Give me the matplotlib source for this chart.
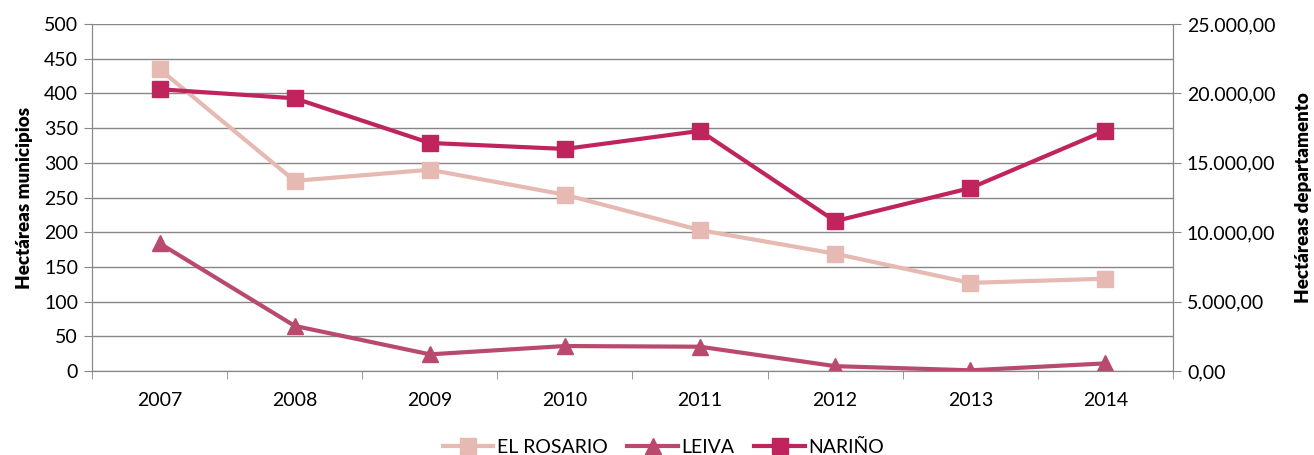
import numpy as np
import matplotlib
matplotlib.use("Agg")
from matplotlib import pyplot as plt
from matplotlib.ticker import FuncFormatter

plt.rcParams['font.family'] = ['Lato', 'DejaVu Sans']

years = ["2007", "2008", "2009", "2010", "2011", "2012", "2013", "2014"]
el_rosario = [435, 274, 290, 254, 203, 169, 127, 133]
leiva = [184, 65, 24, 36, 35, 7, 1, 11]
narino = [20300, 19650, 16430, 16000, 17300, 10800, 13180, 17320]

C_ROS = "#E6B9B3"
C_LEI = "#B94A6E"
C_NAR = "#C0245C"
GRID = "#878787"

fig = plt.figure(figsize=(13.14, 4.55), dpi=100)
ax = fig.add_axes([0.070, 0.1846, 0.8227, 0.7626])
ax2 = ax.twinx()

x = np.arange(len(years))
l1, = ax.plot(x, el_rosario, color=C_ROS, lw=3, marker="s", ms=11, label="EL ROSARIO")
l2, = ax.plot(x, leiva, color=C_LEI, lw=3, marker="^", ms=11, label="LEIVA")
l3, = ax2.plot(x, narino, color=C_NAR, lw=3, marker="s", ms=11, label="NARIÑO")

ax.set_xlim(-0.5, len(years) - 0.5)
ax.set_ylim(0, 500)
ax.set_yticks(np.arange(0, 501, 50))
ax2.set_ylim(0, 25000)
ax2.set_yticks(np.arange(0, 25001, 5000))
ax2.yaxis.set_major_formatter(FuncFormatter(lambda v, p: "{:,.2f}".format(v).replace(",", "X").replace(".", ",").replace("X", ".")))

ax.set_xticks(x)
ax.set_xticklabels(years)
ax.set_xticks(np.arange(-0.5, len(years), 1), minor=True)
ax.tick_params(axis="x", which="major", length=0, pad=15, labelsize=14)
ax.tick_params(axis="x", which="minor", length=6, color=GRID, direction="out")
ax.tick_params(axis="y", length=6, color=GRID, labelsize=14, pad=4)
ax2.tick_params(axis="y", length=6, color=GRID, labelsize=14, pad=4)

ax.grid(axis="y", color=GRID, lw=1)
ax.set_axisbelow(True)
for a in (ax, ax2):
    a.spines["top"].set_visible(False)
    for s in ("left", "right", "bottom"):
        a.spines[s].set_color(GRID)
ax2.set_zorder(ax.get_zorder() + 1)
ax2.patch.set_visible(False)

ax.set_ylabel("Hectáreas municipios", fontsize=13.5, fontweight="heavy", labelpad=8)
ax2.set_ylabel("Hectáreas departamento", fontsize=13.5, fontweight="heavy", labelpad=14)

fig.legend(handles=[l1, l2, l3], loc="lower center", bbox_to_anchor=(0.505, -0.04), ncol=3,
           frameon=False, fontsize=14, handlelength=2.6, columnspacing=1.0, handletextpad=0.2)

fig.savefig("out.png", dpi=100)
